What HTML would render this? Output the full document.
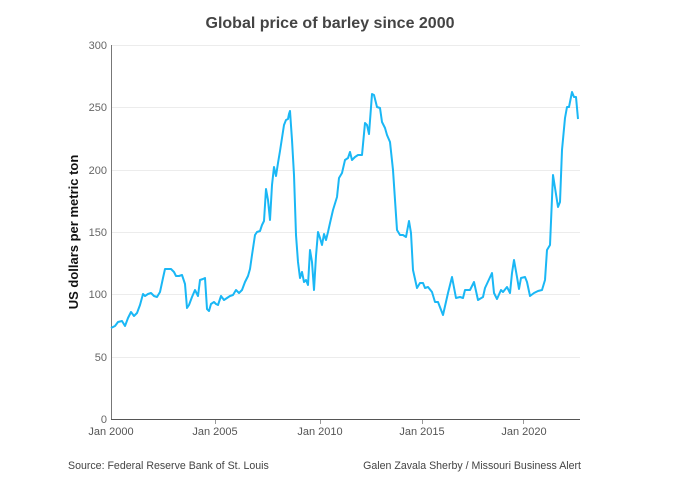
<!DOCTYPE html>
<html><head><meta charset="utf-8"><style>
html,body{margin:0;padding:0;background:#fff;}
svg{display:block;font-family:"Liberation Sans",Arial,sans-serif;}
</style></head><body>
<svg width="679" height="499" viewBox="0 0 679 499">
<text x="330" y="28" text-anchor="middle" font-size="16" font-weight="bold" fill="#444">Global price of barley since 2000</text>
<g stroke="#ececec" stroke-width="1">
<line x1="111" y1="45.5" x2="580" y2="45.5"/>
<line x1="111" y1="107.5" x2="580" y2="107.5"/>
<line x1="111" y1="170.5" x2="580" y2="170.5"/>
<line x1="111" y1="232.5" x2="580" y2="232.5"/>
<line x1="111" y1="294.5" x2="580" y2="294.5"/>
<line x1="111" y1="357.5" x2="580" y2="357.5"/>
</g>
<line x1="111.5" y1="45" x2="111.5" y2="420" stroke="#777" stroke-width="1"/>
<line x1="111" y1="419.5" x2="580" y2="419.5" stroke="#555" stroke-width="1"/>
<g stroke="#999" stroke-width="1">
<line x1="215.5" y1="420" x2="215.5" y2="424"/><line x1="320.5" y1="420" x2="320.5" y2="424"/>
<line x1="422.5" y1="420" x2="422.5" y2="424"/><line x1="523.5" y1="420" x2="523.5" y2="424"/>
</g>
<g font-size="11" fill="#666" text-anchor="end">
<text x="107" y="49">300</text><text x="107" y="111">250</text><text x="107" y="174">200</text>
<text x="107" y="236">150</text><text x="107" y="298">100</text><text x="107" y="361">50</text><text x="107" y="423">0</text>
</g>
<g font-size="11" fill="#555" text-anchor="middle">
<text x="111" y="435">Jan 2000</text><text x="215" y="435">Jan 2005</text><text x="320" y="435">Jan 2010</text>
<text x="422" y="435">Jan 2015</text><text x="524" y="435">Jan 2020</text>
</g>
<text transform="translate(78,232) rotate(-90)" text-anchor="middle" font-size="13" font-weight="bold" fill="#111">US dollars per metric ton</text>
<text x="68" y="469" font-size="10.6" fill="#444">Source: Federal Reserve Bank of St. Louis</text>
<text x="581" y="469" font-size="10.6" fill="#444" text-anchor="end">Galen Zavala Sherby / Missouri Business Alert</text>
<polyline fill="none" stroke="#1ab7f5" stroke-width="2" stroke-linejoin="round" points="111,328 115,326 118,322 122,321 125,326 128,318 131,312 134,316 137,313 140,305 143,294 145,296 148,294 151,293 154,296 157,297 160,292 163,278 165,269 168,269 171,269 174,272 176,276 179,276 182,275 185,284 187,308 189,305 192,297 195,290 198,296 200,280 203,279 205,278 207,309 209,311 211,304 214,302 216,304 218,305 221,296 224,300 227,298 230,296 233,295 236,290 239,293 242,290 245,282 248,276 250,269 252,255 255,235 257,232 260,231 262,225 264,221 266,189 268,200 270,220 272,185 274,167 276,176 278,163 280,151 282,138 284,125 286,120 288,119 289,114 290,111 292,140 294,175 296,235 298,262 300,278 302,272 304,282 306,280 308,285 310,250 312,262 314,290 316,256 318,232 320,238 322,245 324,234 326,240 328,232 330,223 333,210 337,197 339,178 342,173 345,160 348,158 350,152 352,160 355,157 358,155 362,155 365,123 367,125 369,134 372,94 374,95 377,107 380,108 382,122 385,128 387,135 390,142 393,170 397,230 400,235 403,235 406,237 409,221 411,233 413,270 417,288 420,283 423,283 425,288 428,287 432,292 435,302 438,302 443,315 448,293 452,277 456,298 460,297 463,298 465,290 470,290 474,282 478,300 483,297 485,288 492,273 494,293 497,299 501,290 503,292 507,287 510,293 512,273 514,260 517,277 519,289 521,278 525,277 527,282 530,296 534,293 538,291 542,290 545,280 547,250 550,245 553,175 558,207 560,202 562,150 565,118 567,107 569,107 572,92 574,97 576,97 578,119"/>
</svg>
</body></html>
